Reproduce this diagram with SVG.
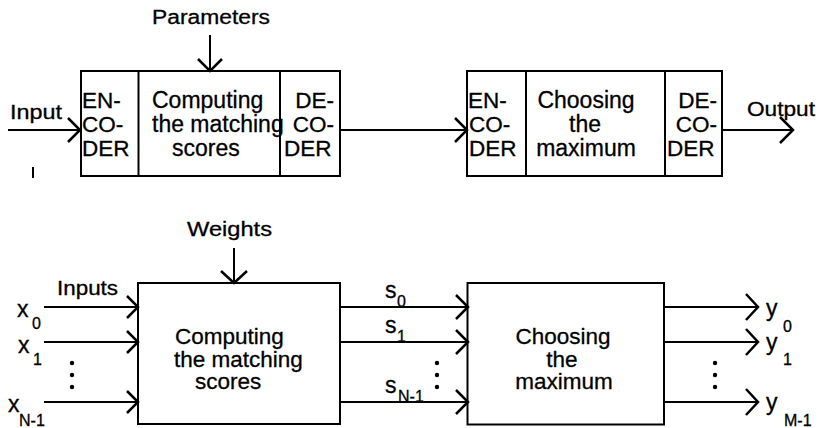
<svg xmlns="http://www.w3.org/2000/svg" width="819" height="428" viewBox="0 0 819 428">
  <style>
    text { font-family: "Liberation Sans", Arial, sans-serif; fill: #000; stroke: #000; stroke-width: 0.3; }
    .in { font-size: 23px; }
    .in2 { font-size: 22.5px; }
    .cd { font-size: 22.5px; }
    .lb { font-size: 20px; }
    .v { font-size: 23px; }
    .sub { font-size: 16px; }
    .box { fill: #fff; stroke: #000; stroke-width: 2; }
    .div { stroke: #000; stroke-width: 2; }
    .wire { fill: none; stroke: #000; stroke-width: 2; }
    .head { fill: none; stroke: #000; stroke-width: 2.5; stroke-linejoin: miter; stroke-linecap: butt; }
  </style>

  <!-- Upper chain: encoded matching stage -->
  <g id="match-coded">
    <rect class="box" x="81" y="71" width="259" height="105"/>
    <line class="div" x1="138.5" y1="71" x2="138.5" y2="176"/>
    <line class="div" x1="280" y1="71" x2="280" y2="176"/>
    <text class="cd" x="82" y="108">EN-</text>
    <text class="cd" x="82" y="132">CO-</text>
    <text class="cd" x="82" y="156">DER</text>
    <text class="in" x="152" y="108">Computing</text>
    <text class="in" x="152" y="132">the matching</text>
    <text class="in" x="172" y="156">scores</text>
    <text class="cd" x="334" y="108" text-anchor="end">DE-</text>
    <text class="cd" x="334" y="132" text-anchor="end">CO-</text>
    <text class="cd" x="284" y="156">DER</text>
  </g>

  <!-- Upper chain: encoded maximum stage -->
  <g id="max-coded">
    <rect class="box" x="467" y="71" width="255" height="105"/>
    <line class="div" x1="526" y1="71" x2="526" y2="176"/>
    <line class="div" x1="665" y1="71" x2="665" y2="176"/>
    <text class="cd" x="468" y="108">EN-</text>
    <text class="cd" x="469" y="132">CO-</text>
    <text class="cd" x="469" y="156">DER</text>
    <text class="in" x="586" y="108" text-anchor="middle">Choosing</text>
    <text class="in" x="585" y="132" text-anchor="middle">the</text>
    <text class="in" x="586" y="156" text-anchor="middle">maximum</text>
    <text class="cd" x="717" y="108" text-anchor="end">DE-</text>
    <text class="cd" x="717" y="132" text-anchor="end">CO-</text>
    <text class="cd" x="667" y="156">DER</text>
  </g>

  <!-- Lower chain: matching network -->
  <g id="match">
    <rect class="box" x="138" y="283" width="202" height="141"/>
    <text class="in2" x="175" y="344">Computing</text>
    <text class="in2" x="174" y="366.5">the matching</text>
    <text class="in2" x="195" y="389">scores</text>
  </g>

  <!-- Lower chain: maximum network -->
  <g id="max">
    <rect class="box" x="467.5" y="283" width="196.5" height="141.5"/>
    <text class="in2" x="563" y="344" text-anchor="middle">Choosing</text>
    <text class="in2" x="562" y="366.5" text-anchor="middle">the</text>
    <text class="in2" x="564" y="389" text-anchor="middle">maximum</text>
  </g>

  <g id="connectors">
    <!-- upper chain -->
    <line class="wire" x1="8" y1="130" x2="80" y2="130"/>
    <polyline class="head" points="68,118 80,130 68,142"/>
    <line class="wire" x1="210" y1="35" x2="210" y2="70"/>
    <polyline class="head" points="198,59 210,71 222,59"/>
    <line class="wire" x1="340" y1="130" x2="466" y2="130"/>
    <polyline class="head" points="455,118 467,130 455,142"/>
    <line class="wire" x1="722" y1="130" x2="793" y2="130"/>
    <polyline class="head" points="780,117 793,130 780,143"/>
    <line class="wire" x1="33" y1="167" x2="33" y2="178"/>

    <!-- lower chain: weights -->
    <line class="wire" x1="234" y1="248" x2="234" y2="282"/>
    <polyline class="head" points="221,271 234,283 247,271"/>

    <!-- lower chain: inputs -->
    <line class="wire" x1="44" y1="307" x2="137" y2="307"/>
    <polyline class="head" points="127,296 138,307 127,318"/>
    <line class="wire" x1="44" y1="342" x2="137" y2="342"/>
    <polyline class="head" points="127,331 138,342 127,353"/>
    <line class="wire" x1="44" y1="402" x2="137" y2="402"/>
    <polyline class="head" points="127,391 138,402 127,413"/>

    <!-- lower chain: scores -->
    <line class="wire" x1="340" y1="307" x2="467" y2="307"/>
    <polyline class="head" points="456,295 468,307 456,319"/>
    <line class="wire" x1="340" y1="342" x2="467" y2="342"/>
    <polyline class="head" points="456,330 468,342 456,354"/>
    <line class="wire" x1="340" y1="402" x2="467" y2="402"/>
    <polyline class="head" points="456,390 468,402 456,414"/>

    <!-- lower chain: outputs -->
    <line class="wire" x1="664" y1="307" x2="757" y2="307"/>
    <polyline class="head" points="746,294 758,307 746,320"/>
    <line class="wire" x1="664" y1="342" x2="757" y2="342"/>
    <polyline class="head" points="746,329 758,342 746,355"/>
    <line class="wire" x1="664" y1="402" x2="757" y2="402"/>
    <polyline class="head" points="746,389 758,402 746,415"/>

    <!-- ellipses -->
    <circle cx="72" cy="363" r="2.2"/>
    <circle cx="72" cy="375" r="2.2"/>
    <circle cx="72" cy="387" r="2.2"/>
    <circle cx="437" cy="363" r="2.2"/>
    <circle cx="437" cy="375" r="2.2"/>
    <circle cx="437" cy="387" r="2.2"/>
    <circle cx="715" cy="363" r="2.2"/>
    <circle cx="715" cy="375" r="2.2"/>
    <circle cx="715" cy="387" r="2.2"/>
  </g>

  <!-- Labels -->
  <g id="labels">
    <text class="lb" x="152" y="24" textLength="118" lengthAdjust="spacingAndGlyphs">Parameters</text>
    <text class="lb" x="10" y="119" textLength="52" lengthAdjust="spacingAndGlyphs">Input</text>
    <text class="lb" x="747" y="116" textLength="68" lengthAdjust="spacingAndGlyphs">Output</text>
    <text class="lb" x="187" y="236" textLength="85" lengthAdjust="spacingAndGlyphs">Weights</text>
    <text class="lb" x="57" y="295" textLength="61" lengthAdjust="spacingAndGlyphs">Inputs</text>

    <text class="v" x="17" y="317">x</text><text class="sub" x="32" y="329">0</text>
    <text class="v" x="18" y="353">x</text><text class="sub" x="33" y="365">1</text>
    <text class="v" x="8" y="412">x</text><text class="sub" x="19" y="425.5">N-1</text>

    <text class="v" x="385" y="298">s</text><text class="sub" x="397" y="307">0</text>
    <text class="v" x="385" y="333">s</text><text class="sub" x="397" y="342">1</text>
    <text class="v" x="385" y="393">s</text><text class="sub" x="398" y="402">N-1</text>

    <text class="v" x="766" y="316">y</text><text class="sub" x="783" y="332">0</text>
    <text class="v" x="766" y="350">y</text><text class="sub" x="783" y="365">1</text>
    <text class="v" x="766" y="410">y</text><text class="sub" x="784" y="425.5">M-1</text>
  </g>
</svg>
